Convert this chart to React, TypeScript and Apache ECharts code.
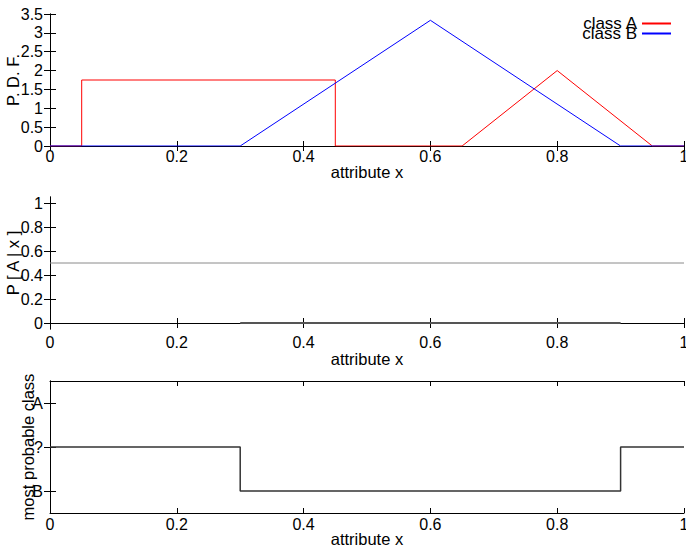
import React, { useEffect, useRef } from "react";
import * as echarts from "echarts";

// Class-conditional densities over attribute x
const classAX = [0, 0.05, 0.05, 0.45, 0.45, 0.65, 0.8, 0.95, 1];
const classAY = [0, 0, 1.75, 1.75, 0, 0, 2, 0, 0];
const classBX = [0, 0.3, 0.6, 0.9, 1];
const classBY = [0, 0, 3.333, 0, 0];

// Posterior P[A|x]
const halfX = [0, 1];
const halfY = [0.5, 0.5];
const posteriorX = [0.3, 0.9];
const posteriorY = [0, 0];
const posteriorTicks = [0, 0.2, 0.4, 0.6, 0.8, 1];

// Decision: most probable class
const classLevels = ["B", "?", "A"];
const decisionX = [0, 0.3, 0.3, 0.9, 0.9, 1];
const decisionY = ["?", "?", "B", "B", "?", "?"];

const FONT = "Liberation Sans";
const BLACK = "#000";
const RED = "#ff0000";
const BLUE = "#0000ff";

const zip = (xs: number[], ys: (number | string)[]) => xs.map((x, i) => [x, ys[i]]);

const gridTops = [14, 197, 381];
const xNameGaps = [17, 21, 17];
const xLabelMargins = [2, 5, 3];

function xAxes(i: number) {
  const common = {
    gridIndex: i,
    type: "value",
    min: 0,
    max: 1,
    interval: 0.2,
    splitLine: { show: false },
    axisLine: { show: true, lineStyle: { color: BLACK, width: 1 } },
    axisTick: { show: true, inside: true, length: 5, lineStyle: { color: BLACK } },
  };
  return [
    {
      ...common,
      position: "bottom",
      name: "attribute x",
      nameLocation: "middle",
      nameGap: xNameGaps[i],
      nameMoveOverlap: false,
      nameTextStyle: { fontFamily: FONT, fontSize: 16.5, color: BLACK },
      axisLabel: { fontFamily: FONT, fontSize: 16, color: BLACK, margin: xLabelMargins[i] },
    },
    { ...common, position: "top", axisLabel: { show: false } },
  ];
}

export default function App() {
  const ref = useRef<HTMLDivElement>(null);

  useEffect(() => {
    if (!ref.current) return;
    const chart = echarts.init(ref.current, null, { renderer: "svg" });

    const yLine = { show: true, lineStyle: { color: BLACK, width: 1 } };
    const yTick = { show: true, inside: true, length: 6, lineStyle: { color: BLACK } };
    const yLabel = { fontFamily: FONT, fontSize: 16, color: BLACK, margin: 7 };
    const yName = { fontFamily: FONT, fontSize: 16.5, color: BLACK };

    const option: any = {
      animation: false,
      textStyle: { fontFamily: FONT, fontSize: 16, color: BLACK },
      grid: gridTops.map((top) => ({
        left: 50,
        right: 2,
        top,
        height: 132,
        show: false,
        containLabel: false,
        outerBoundsMode: "none",
      })),
      legend: {
        data: ["class A", "class B"],
        orient: "vertical",
        align: "right",
        right: 14,
        top: 15,
        padding: 0,
        itemGap: -7,
        itemWidth: 29,
        itemHeight: 14,
        // line-only key: hide the marker drawn in the middle of the sample line
        itemStyle: { opacity: 0 },
        textStyle: { fontFamily: FONT, fontSize: 17, color: BLACK },
      },
      xAxis: [...xAxes(0), ...xAxes(1), ...xAxes(2)],
      yAxis: [
        {
          gridIndex: 0,
          type: "value",
          min: 0,
          max: 3.5,
          interval: 0.5,
          position: "left",
          name: "P. D. F.",
          nameLocation: "middle",
          nameGap: 29,
          nameMoveOverlap: false,
          nameTextStyle: yName,
          splitLine: { show: false },
          axisLine: yLine,
          axisTick: yTick,
          axisLabel: yLabel,
        },
        {
          gridIndex: 0,
          type: "value",
          min: 0,
          max: 3.5,
          interval: 0.5,
          position: "right",
          splitLine: { show: false },
          axisLine: yLine,
          axisTick: yTick,
          axisLabel: { show: false },
        },
        {
          gridIndex: 1,
          type: "value",
          min: -0.05,
          max: 1.05,
          position: "left",
          name: "P [ A | x ]",
          nameLocation: "middle",
          nameGap: 29,
          nameMoveOverlap: false,
          nameTextStyle: yName,
          splitLine: { show: false },
          axisLine: yLine,
          axisTick: { ...yTick, customValues: posteriorTicks },
          axisLabel: { ...yLabel, customValues: posteriorTicks },
        },
        {
          gridIndex: 1,
          type: "value",
          min: -0.05,
          max: 1.05,
          position: "right",
          splitLine: { show: false },
          axisLine: yLine,
          axisTick: { ...yTick, customValues: posteriorTicks },
          axisLabel: { show: false },
        },
        {
          gridIndex: 2,
          type: "category",
          data: classLevels,
          boundaryGap: true,
          position: "left",
          name: "most probable class",
          nameLocation: "middle",
          nameGap: 14,
          nameMoveOverlap: false,
          nameTextStyle: yName,
          splitLine: { show: false },
          axisLine: yLine,
          axisTick: { ...yTick, alignWithLabel: true },
          axisLabel: yLabel,
        },
        {
          gridIndex: 2,
          type: "category",
          data: classLevels,
          boundaryGap: true,
          position: "right",
          splitLine: { show: false },
          axisLine: yLine,
          axisTick: { ...yTick, alignWithLabel: true },
          axisLabel: { show: false },
        },
      ],
      series: [
        {
          name: "class A",
          type: "line",
          xAxisIndex: 0,
          yAxisIndex: 0,
          data: zip(classAX, classAY),
          symbol: "none",
          lineStyle: { color: RED, width: 1 },
          itemStyle: { color: RED },
        },
        {
          name: "class B",
          type: "line",
          xAxisIndex: 0,
          yAxisIndex: 0,
          data: zip(classBX, classBY),
          symbol: "none",
          lineStyle: { color: BLUE, width: 1 },
          itemStyle: { color: BLUE },
        },
        {
          name: "even odds",
          type: "line",
          xAxisIndex: 2,
          yAxisIndex: 2,
          data: zip(halfX, halfY),
          symbol: "none",
          lineStyle: { color: "#8a8a8a", width: 1 },
        },
        {
          name: "P[A|x]",
          type: "line",
          xAxisIndex: 2,
          yAxisIndex: 2,
          data: zip(posteriorX, posteriorY),
          symbol: "none",
          lineStyle: { color: "#555555", width: 2 },
        },
        {
          name: "decision",
          type: "line",
          xAxisIndex: 4,
          yAxisIndex: 4,
          data: zip(decisionX, decisionY),
          symbol: "none",
          lineStyle: { color: "#333333", width: 1.5 },
        },
      ],
    };

    chart.setOption(option);
    return () => chart.dispose();
  }, []);

  return (
    <div
      ref={ref}
      style={{ position: "fixed", left: 0, top: 0, width: 686, height: 546, background: "#fff" }}
    />
  );
}
